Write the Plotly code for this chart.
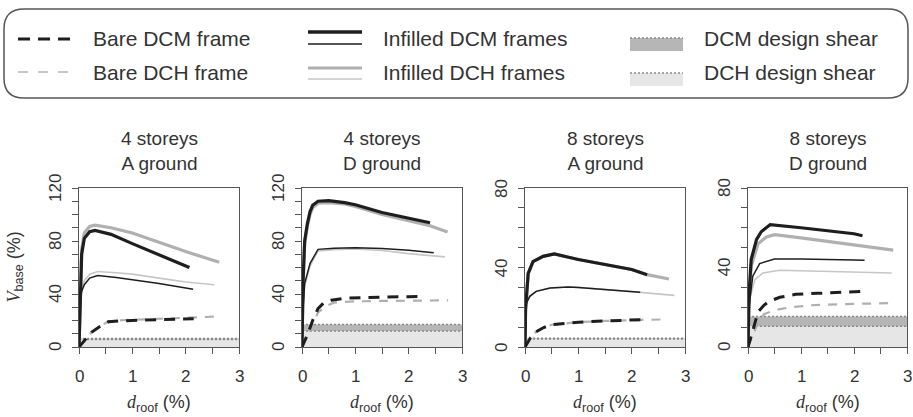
import plotly.graph_objects as go

# ---------------- data ----------------
PANEL_TITLES = ["4 storeys<br>A ground", "4 storeys<br>D ground",
                "8 storeys<br>A ground", "8 storeys<br>D ground"]
Y_MAX = [120, 120, 80, 80]
Y_TICKS = [[0, 40, 80, 120], [0, 40, 80, 120], [0, 40, 80], [0, 40, 80]]
X_TICKS = [0, 1, 2, 3]

DCM_SHEAR = [6.5, 17.0, 4.4, 15.4]
DCH_SHEAR = [5.6, 12.0, 4.0, 10.4]

# Panel 1: 4 storeys, A ground
P1_BARE_DCM_D = [0, 0.1, 0.24, 0.39, 0.55, 0.8, 1.2, 1.6, 2.15]
P1_BARE_DCM_V = [0, 5, 11.3, 15.5, 19, 19.8, 20.3, 20.8, 21.3]
P1_BARE_DCH_D = [0, 0.1, 0.24, 0.4, 0.55, 0.8, 1.2, 1.6, 2.0, 2.6]
P1_BARE_DCH_V = [0, 5, 11.3, 15.8, 19.3, 20.2, 20.9, 21.5, 22.1, 23]
P1_INF_DCM_A_D = [0, 0.02, 0.05, 0.1, 0.2, 0.3, 0.6, 1.0, 1.5, 2.07]
P1_INF_DCM_A_V = [0, 40, 70, 82, 87, 88, 85, 78, 69.5, 60]
P1_INF_DCM_B_D = [0, 0.02, 0.05, 0.1, 0.2, 0.35, 0.7, 1.0, 1.5, 2.14]
P1_INF_DCM_B_V = [0, 35, 42, 47, 52, 54, 52.5, 51, 48, 43.6]
P1_INF_DCH_A_D = [0, 0.02, 0.05, 0.1, 0.2, 0.3, 0.6, 1.0, 1.5, 2.0, 2.63]
P1_INF_DCH_A_V = [0, 42, 74, 86, 91, 92, 90, 86, 79, 72, 64]
P1_INF_DCH_B_D = [0, 0.02, 0.05, 0.1, 0.2, 0.35, 0.7, 1.0, 1.5, 2.0, 2.54]
P1_INF_DCH_B_V = [0, 36, 44, 50, 55, 57, 56, 55, 52, 49, 47]

# Panel 2: 4 storeys, D ground
P2_BARE_DCM_D = [0, 0.1, 0.2, 0.3, 0.4, 0.55, 0.8, 1.2, 1.6, 2.0, 2.25]
P2_BARE_DCM_V = [0, 9, 20, 29, 33, 35.3, 36.8, 37.5, 37.8, 38, 38.2]
P2_BARE_DCH_D = [0, 0.1, 0.2, 0.3, 0.45, 0.6, 0.9, 1.3, 1.8, 2.3, 2.74]
P2_BARE_DCH_V = [0, 8, 17, 26, 31, 33.5, 34.3, 34.7, 35, 35.1, 35.2]
P2_INF_DCM_A_D = [0, 0.02, 0.05, 0.1, 0.15, 0.2, 0.3, 0.5, 0.8, 1.0, 1.5, 2.0, 2.4]
P2_INF_DCM_A_V = [0, 50, 80, 93, 102, 107, 110, 110.5, 109, 107.4, 101.5, 96.9, 93.8]
P2_INF_DCM_B_D = [0, 0.02, 0.05, 0.15, 0.3, 0.6, 1.0, 1.5, 2.0, 2.47]
P2_INF_DCM_B_V = [0, 30, 48, 63, 73.7, 74.6, 75, 74.3, 73, 71.2]
P2_INF_DCH_A_D = [0, 0.02, 0.05, 0.1, 0.15, 0.2, 0.3, 0.5, 0.8, 1.0, 1.5, 2.0, 2.4, 2.73]
P2_INF_DCH_A_V = [0, 48, 78, 91, 100, 105, 108.5, 109, 108, 106, 100, 95, 91.5, 86.8]
P2_INF_DCH_B_D = [0, 0.02, 0.05, 0.15, 0.3, 0.6, 1.0, 1.5, 2.0, 2.68]
P2_INF_DCH_B_V = [0, 28, 46, 61, 72.5, 73.5, 74, 72.8, 70.5, 68]

# Panel 3: 8 storeys, A ground
P3_BARE_DCM_D = [0, 0.05, 0.1, 0.2, 0.35, 0.5, 0.75, 1.0, 1.5, 2.0, 2.26]
P3_BARE_DCM_V = [0, 2.5, 4.5, 7.5, 9.8, 11.2, 12, 12.5, 13.1, 13.6, 13.8]
P3_BARE_DCH_D = [0, 0.05, 0.1, 0.2, 0.35, 0.5, 0.75, 1.0, 1.5, 2.0, 2.64]
P3_BARE_DCH_V = [0, 2.5, 4.5, 7.5, 9.8, 11.2, 12, 12.5, 13.1, 13.5, 13.9]
P3_INF_DCM_A_D = [0, 0.01, 0.06, 0.15, 0.34, 0.55, 1.0, 2.0, 2.29]
P3_INF_DCM_A_V = [0, 18.8, 37, 43, 45.6, 46.8, 44, 39, 36.4]
P3_INF_DCM_B_D = [0, 0.025, 0.09, 0.21, 0.47, 0.81, 1.0, 2.0, 2.16]
P3_INF_DCM_B_V = [0, 22, 25.5, 28, 29.7, 30.2, 30, 28, 27.5]
P3_INF_DCH_A_D = [0, 0.01, 0.06, 0.15, 0.34, 0.55, 1.0, 2.0, 2.29, 2.7]
P3_INF_DCH_A_V = [0, 18.8, 37, 43, 45.6, 46.8, 44, 39, 36.4, 34.2]
P3_INF_DCH_B_D = [0, 0.025, 0.09, 0.21, 0.47, 0.81, 1.0, 2.0, 2.16, 2.8]
P3_INF_DCH_B_V = [0, 22, 25.5, 28, 29.7, 30.2, 30, 28, 27.5, 26]

# Panel 4: 8 storeys, D ground
P4_BARE_DCM_D = [0, 0.05, 0.1, 0.15, 0.2, 0.3, 0.4, 0.6, 0.9, 1.3, 1.8, 2.24]
P4_BARE_DCM_V = [0, 4, 9, 14, 18, 21, 23, 25, 26.5, 27, 27.5, 28]
P4_BARE_DCH_D = [0, 0.05, 0.1, 0.2, 0.3, 0.5, 0.8, 1.2, 1.8, 2.3, 2.78]
P4_BARE_DCH_V = [0, 3.5, 7, 13, 16.5, 18.5, 20, 21, 21.6, 21.9, 22.1]
P4_INF_DCM_A_D = [0, 0.02, 0.06, 0.16, 0.25, 0.42, 1.0, 2.0, 2.16]
P4_INF_DCM_A_V = [0, 27, 44, 54, 58, 61.6, 60, 57, 56]
P4_INF_DCM_B_D = [0, 0.02, 0.09, 0.22, 0.5, 1.0, 2.0, 2.2]
P4_INF_DCM_B_V = [0, 20.5, 35.6, 42, 44.3, 44.3, 43.8, 43.6]
P4_INF_DCH_A_D = [0, 0.02, 0.06, 0.19, 0.35, 0.5, 1.0, 2.0, 2.74]
P4_INF_DCH_A_V = [0, 22, 40.6, 52, 55.4, 56.5, 54.9, 51.5, 48.7]
P4_INF_DCH_B_D = [0, 0.03, 0.13, 0.28, 0.6, 1.0, 2.0, 2.71]
P4_INF_DCH_B_V = [0, 24, 33.9, 37.2, 38.6, 38.4, 37.9, 37.2]

PANELS = [
    dict(bare_dcm=(P1_BARE_DCM_D, P1_BARE_DCM_V), bare_dch=(P1_BARE_DCH_D, P1_BARE_DCH_V),
         inf_dcm_a=(P1_INF_DCM_A_D, P1_INF_DCM_A_V), inf_dcm_b=(P1_INF_DCM_B_D, P1_INF_DCM_B_V),
         inf_dch_a=(P1_INF_DCH_A_D, P1_INF_DCH_A_V), inf_dch_b=(P1_INF_DCH_B_D, P1_INF_DCH_B_V)),
    dict(bare_dcm=(P2_BARE_DCM_D, P2_BARE_DCM_V), bare_dch=(P2_BARE_DCH_D, P2_BARE_DCH_V),
         inf_dcm_a=(P2_INF_DCM_A_D, P2_INF_DCM_A_V), inf_dcm_b=(P2_INF_DCM_B_D, P2_INF_DCM_B_V),
         inf_dch_a=(P2_INF_DCH_A_D, P2_INF_DCH_A_V), inf_dch_b=(P2_INF_DCH_B_D, P2_INF_DCH_B_V)),
    dict(bare_dcm=(P3_BARE_DCM_D, P3_BARE_DCM_V), bare_dch=(P3_BARE_DCH_D, P3_BARE_DCH_V),
         inf_dcm_a=(P3_INF_DCM_A_D, P3_INF_DCM_A_V), inf_dcm_b=(P3_INF_DCM_B_D, P3_INF_DCM_B_V),
         inf_dch_a=(P3_INF_DCH_A_D, P3_INF_DCH_A_V), inf_dch_b=(P3_INF_DCH_B_D, P3_INF_DCH_B_V)),
    dict(bare_dcm=(P4_BARE_DCM_D, P4_BARE_DCM_V), bare_dch=(P4_BARE_DCH_D, P4_BARE_DCH_V),
         inf_dcm_a=(P4_INF_DCM_A_D, P4_INF_DCM_A_V), inf_dcm_b=(P4_INF_DCM_B_D, P4_INF_DCM_B_V),
         inf_dch_a=(P4_INF_DCH_A_D, P4_INF_DCH_A_V), inf_dch_b=(P4_INF_DCH_B_D, P4_INF_DCH_B_V)),
]

LEGEND_LABELS = ["Bare DCM frame", "Bare DCH frame", "Infilled DCM frames",
                 "Infilled DCH frames", "DCM design shear", "DCH design shear"]

# ---------------- styles ----------------
W, H = 913, 417
FONT = "Liberation Sans, Arial, sans-serif"
TXT = "#333333"
AXIS = "#555555"
BLACK = "#1e1e1e"
GRAY_A = "#b0b0b0"
GRAY_B = "#c6c6c6"
BAND_DCM = "#b6b6b6"
BAND_DCH = "#e6e6e6"
DOT = "#8a8a8a"

PANEL_PX = [(79, 239), (302, 462), (525, 685), (748, 907)]
TOP_PX, BOT_PX = 188, 347
XLAB_Y_PX = 376     # centre of x tick labels
YLAB_OFF_PX = 24    # distance from y axis to centre of y tick labels


def px(x):
    return x / W


def py(y):
    return 1 - y / H


fig = go.Figure()
layout = dict(
    width=W, height=H, margin=dict(l=0, r=0, t=0, b=0),
    paper_bgcolor="white", plot_bgcolor="white", showlegend=False,
    font=dict(family=FONT, color=TXT),
)
annotations = []
shapes = []

for i, pdata in enumerate(PANELS):
    n = "" if i == 0 else str(i + 1)
    xa, ya = "x" + n, "y" + n
    x0, x1 = PANEL_PX[i]
    ax_common = dict(showline=True, mirror=True, linecolor=AXIS, linewidth=1.3,
                     ticks="outside", ticklen=6, tickwidth=1.3, tickcolor=AXIS,
                     showgrid=False, zeroline=False, fixedrange=True,
                     showticklabels=False)
    layout["xaxis" + n] = dict(ax_common, domain=[px(x0), px(x1)], anchor=ya,
                               range=[0, 3], tickvals=X_TICKS,
                               minor=dict(dtick=0.5, ticklen=6, tickwidth=1.3,
                                          tickcolor=AXIS, ticks="outside"))
    layout["yaxis" + n] = dict(ax_common, domain=[py(BOT_PX), py(TOP_PX)], anchor=xa,
                               range=[0, Y_MAX[i]], tickvals=Y_TICKS[i],
                               minor=dict(dtick=10, ticklen=6, tickwidth=1.3,
                                          tickcolor=AXIS, ticks="outside"))

    # tick labels placed through the axes' own scales
    for t in X_TICKS:
        annotations.append(dict(text=str(t), x=t, xref=xa, y=py(XLAB_Y_PX), yref="paper",
                                xanchor="center", yanchor="middle", showarrow=False,
                                font=dict(size=17, color=TXT, family=FONT)))
    for t in Y_TICKS[i]:
        annotations.append(dict(text=str(t), x=px(x0 - YLAB_OFF_PX), xref="paper", y=t, yref=ya,
                                xanchor="center", yanchor="middle", textangle=-90,
                                showarrow=False, font=dict(size=17, color=TXT, family=FONT)))

    # design shear bands
    for val, col in ((DCM_SHEAR[i], BAND_DCM), (DCH_SHEAR[i], BAND_DCH)):
        fig.add_trace(go.Scatter(x=[0, 3], y=[val, val], mode="lines", fill="tozeroy",
                                 fillcolor=col, line=dict(color=DOT, width=1.5, dash="2px,2px"),
                                 xaxis=xa, yaxis=ya, hoverinfo="skip"))

    def add(key, color, width, dash="solid"):
        d, v = pdata[key]
        fig.add_trace(go.Scatter(x=d, y=v, mode="lines",
                                 line=dict(color=color, width=width, dash=dash),
                                 xaxis=xa, yaxis=ya, hoverinfo="skip"))

    add("bare_dch", GRAY_A, 2.2, "9px,8px")
    add("inf_dch_b", GRAY_B, 1.6)
    add("inf_dch_a", GRAY_A, 3.2)
    add("bare_dcm", BLACK, 3.0, "11px,8px")
    add("inf_dcm_b", BLACK, 1.5)
    add("inf_dcm_a", BLACK, 3.2)

    cx = px((x0 + x1) / 2)
    annotations.append(dict(text=PANEL_TITLES[i], x=cx, y=py(151), xref="paper", yref="paper",
                            xanchor="center", yanchor="middle", showarrow=False,
                            font=dict(size=19, color=TXT, family=FONT)))
    annotations.append(dict(
        text="<span style='font-family:Liberation Serif'><i>d</i></span><sub>roof</sub> (%)",
        x=cx, y=py(403), xref="paper", yref="paper", xanchor="center", yanchor="middle",
        showarrow=False, font=dict(size=18, color=TXT, family=FONT)))

annotations.append(dict(
    text="<span style='font-family:Liberation Serif'><i>V</i></span><sub>base</sub> (%)",
    x=px(15), y=py((TOP_PX + BOT_PX) / 2), xref="paper", yref="paper",
    xanchor="center", yanchor="middle", textangle=-90, showarrow=False,
    font=dict(size=18, color=TXT, family=FONT)))

# ---------------- legend (drawn manually) ----------------
bx0, by0, bx1, by1, r = 4, 9, 908, 98, 20


def P(x, y):
    return f"{px(x):.5f},{py(y):.5f}"


path = (f"M {P(bx0 + r, by0)} L {P(bx1 - r, by0)} Q {P(bx1, by0)} {P(bx1, by0 + r)} "
        f"L {P(bx1, by1 - r)} Q {P(bx1, by1)} {P(bx1 - r, by1)} "
        f"L {P(bx0 + r, by1)} Q {P(bx0, by1)} {P(bx0, by1 - r)} "
        f"L {P(bx0, by0 + r)} Q {P(bx0, by0)} {P(bx0 + r, by0)} Z")
shapes.append(dict(type="path", path=path, xref="paper", yref="paper",
                   line=dict(color=AXIS, width=1.5)))


def hline(xa, xb, y, color, width, dash="solid"):
    shapes.append(dict(type="line", xref="paper", yref="paper",
                       x0=px(xa), x1=px(xb), y0=py(y), y1=py(y),
                       line=dict(color=color, width=width, dash=dash)))


ROW1, ROW2 = 39, 72
hline(18, 72, ROW1, BLACK, 3.0, "12px,8px")
hline(18, 72, ROW2, GRAY_B, 2.2, "10px,10px")
hline(308, 362, 32, BLACK, 3.5)
hline(308, 362, 44, BLACK, 1.5)
hline(308, 362, 68, GRAY_A, 3.2)
hline(308, 362, 79, GRAY_B, 1.6)
for (ya_, yb_, col) in ((38, 51, BAND_DCM), (73, 86, BAND_DCH)):
    shapes.append(dict(type="rect", xref="paper", yref="paper",
                       x0=px(630), x1=px(683), y0=py(yb_), y1=py(ya_),
                       fillcolor=col, line=dict(width=0)))
    hline(630, 683, ya_, DOT, 1.3, "2px,2px")

for lbl, (lx, ly) in zip(LEGEND_LABELS, [(91, ROW1), (91, ROW2), (381, ROW1), (381, ROW2),
                                         (702, ROW1), (702, ROW2)]):
    annotations.append(dict(text=lbl, x=px(lx), y=py(ly), xref="paper", yref="paper",
                            xanchor="left", yanchor="middle", showarrow=False,
                            font=dict(size=21, color=TXT, family=FONT)))

layout["annotations"] = annotations
layout["shapes"] = shapes
fig.update_layout(**layout)
fig.write_html("out.html")
